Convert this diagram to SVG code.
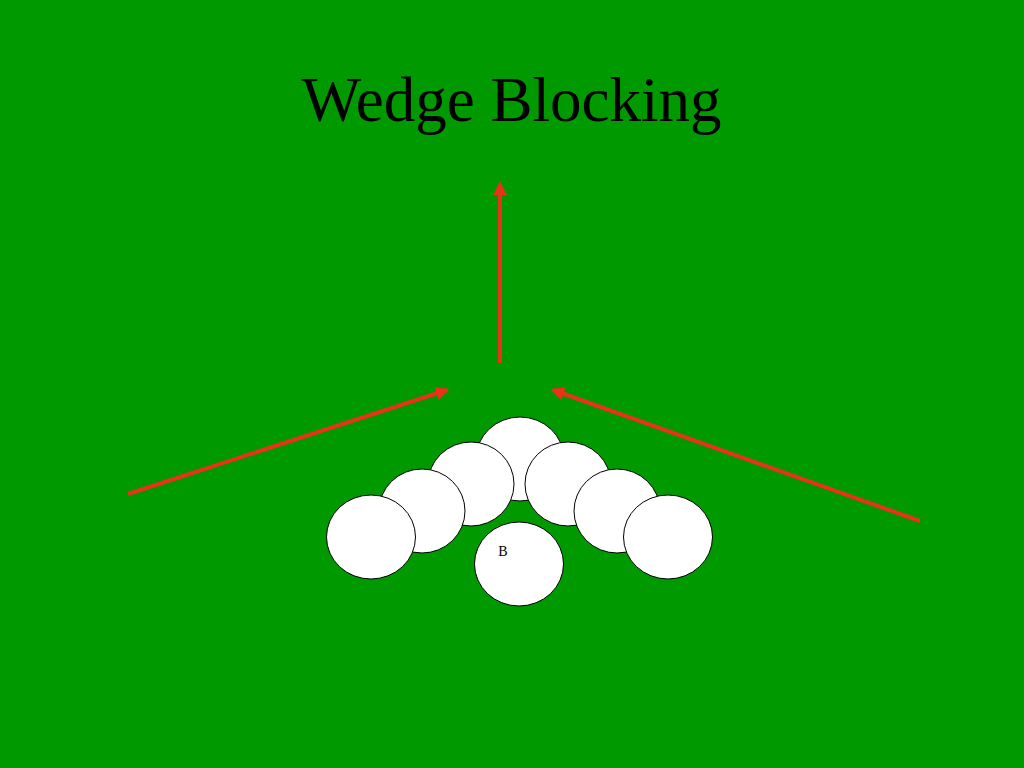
<svg xmlns="http://www.w3.org/2000/svg" width="1024" height="768" viewBox="0 0 1024 768">
<defs>
<style>
.player{fill:#ffffff;stroke:#000000;stroke-width:1}
.route{stroke:#e8321a;stroke-width:4;fill:none;marker-end:url(#ah)}
.title{font-family:"Liberation Serif","Times New Roman",serif;font-size:63px;fill:#000000}
.lbl{font-family:"Liberation Serif","Times New Roman",serif;font-size:14px;fill:#000000}
</style>
<marker id="ah" viewBox="0 0 10 10" refX="8" refY="5" markerWidth="3.5" markerHeight="3.5" orient="auto" markerUnits="strokeWidth">
<path d="M0,0 L10,5 L0,10 z" fill="#e8321a"/>
</marker>
</defs>
<rect x="0" y="0" width="1024" height="768" fill="#009900"/>
<text class="title" x="511.5" y="121" text-anchor="middle">Wedge Blocking</text>
<g id="connectors">
<line class="route" x1="500" y1="363" x2="500" y2="184"/>
<line class="route" x1="128" y1="494" x2="447" y2="390"/>
<line class="route" x1="920" y1="521" x2="553" y2="390"/>
</g>
<g id="player-c"><ellipse class="player" cx="520" cy="459" rx="44" ry="42"/></g>
<g id="player-lg"><ellipse class="player" cx="471" cy="484" rx="43" ry="42"/></g>
<g id="player-rg"><ellipse class="player" cx="568" cy="484" rx="43" ry="42"/></g>
<g id="player-lt"><ellipse class="player" cx="422" cy="511" rx="43" ry="42"/></g>
<g id="player-rt"><ellipse class="player" cx="617" cy="511" rx="43" ry="42"/></g>
<g id="player-le"><ellipse class="player" cx="371" cy="537" rx="44.5" ry="42"/></g>
<g id="player-re"><ellipse class="player" cx="668" cy="537" rx="44.5" ry="42"/></g>
<g id="player-b"><ellipse class="player" cx="519" cy="564" rx="44.5" ry="42"/><text class="lbl" x="503" y="556" text-anchor="middle">B</text></g>
</svg>
